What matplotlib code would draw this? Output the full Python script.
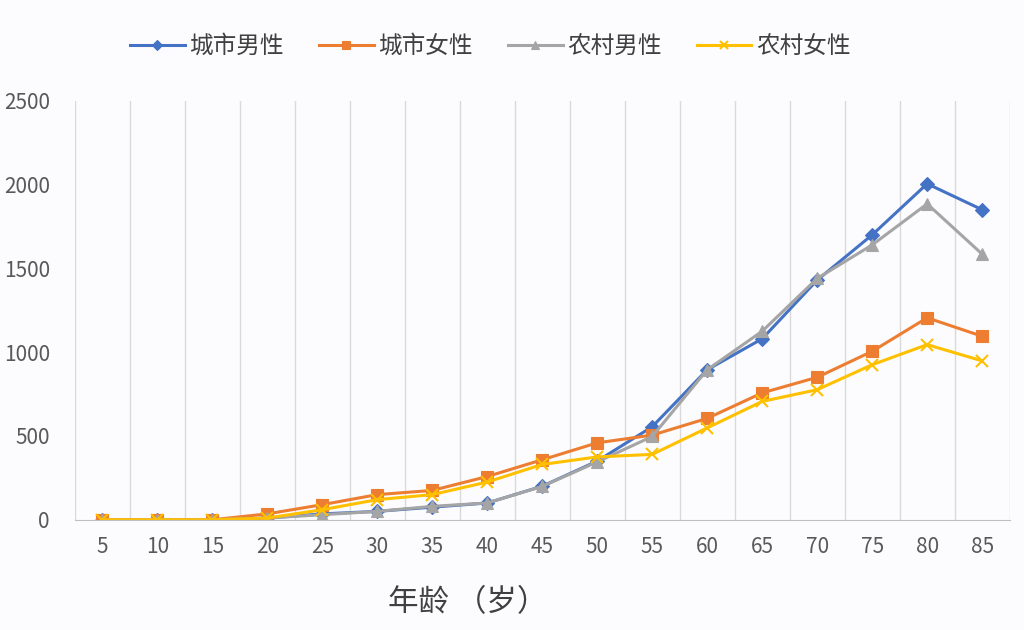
import matplotlib
matplotlib.use("Agg")
import matplotlib.pyplot as plt
import numpy as np

plt.rcParams['font.family'] = ['Noto Sans CJK SC', 'DejaVu Sans']

ages = ['5', '10', '15', '20', '25', '30', '35', '40', '45', '50', '55', '60', '65', '70', '75', '80', '85']
urban_male = [0, 0, 0, 10, 35, 50, 75, 100, 200, 350, 555, 895, 1080, 1430, 1700, 2005, 1850]
urban_female = [0, 0, 0, 35, 90, 150, 175, 258, 358, 459, 505, 605, 757, 850, 1005, 1205, 1095]
rural_male = [0, 0, 0, 10, 30, 50, 80, 100, 199, 345, 497, 895, 1125, 1440, 1640, 1885, 1585]
rural_female = [0, 0, 0, 10, 60, 120, 150, 225, 330, 375, 390, 548, 706, 776, 925, 1045, 948]

series = [
    ('城市男性', urban_male, '#4472C4', 'D', 7),
    ('城市女性', urban_female, '#ED7D31', 's', 8),
    ('农村男性', rural_male, '#A5A5A5', '^', 8),
    ('农村女性', rural_female, '#FFC000', 'x', 8),
]

fig = plt.figure(figsize=(10.24, 6.30), dpi=100)
fig.patch.set_facecolor('#FCFCFE')
ax = fig.add_axes([0.073, 0.175, 0.913, 0.665])
ax.set_facecolor('#FCFCFE')
x = np.arange(len(ages))
for name, vals, col, mk, ms in series:
    ax.plot(x, vals, color=col, marker=mk, markersize=ms, linewidth=2.2,
            markeredgewidth=1.5 if mk == 'x' else 0.8, label=name)

ax.set_xlim(-0.5, len(ages) - 0.5)
ax.set_ylim(0, 2500)
ax.set_yticks([0, 500, 1000, 1500, 2000, 2500])
ax.set_xticks(x)
ax.set_xticklabels(ages)
for b in np.arange(-0.5, len(ages), 1.0):
    ax.axvline(b, color='#D9D9D9', linewidth=1, zorder=0)
for s in ['top', 'right', 'left']:
    ax.spines[s].set_visible(False)
ax.spines['bottom'].set_color('#BFBFBF')
ax.tick_params(axis='both', length=0, colors='#595959', labelsize=15)
ax.tick_params(axis='x', pad=12)
ax.tick_params(axis='y', pad=18)
ax.set_xlabel('年龄 （岁）', fontsize=22, color='#404040', labelpad=14)
ax.xaxis.set_label_coords(0.42, -0.16)

handles, labels = ax.get_legend_handles_labels()
leg = fig.legend(handles, labels, loc='center', bbox_to_anchor=(0.479, 0.926), ncol=4, frameon=False,
                 fontsize=17, handlelength=2.3, columnspacing=1.5, handletextpad=0.2,
                 markerscale=0.8)
for t in leg.get_texts():
    t.set_color('#404040')

fig.savefig('out.png', dpi=100, facecolor=fig.get_facecolor())
